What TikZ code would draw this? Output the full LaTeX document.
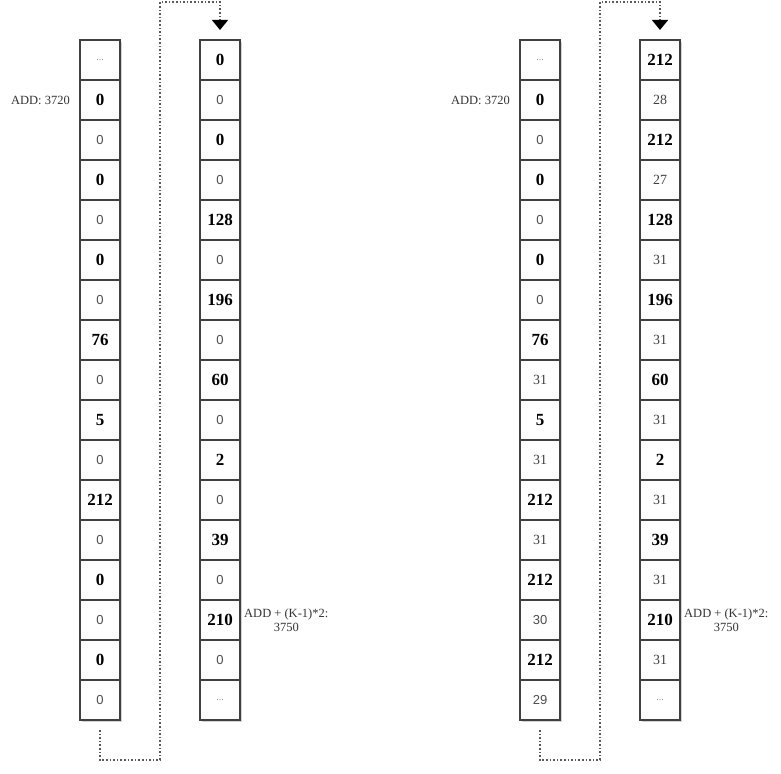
\documentclass[tikz,border=0pt]{standalone}
\usepackage{fontspec}
\setmainfont{Liberation Serif}
\setsansfont{Liberation Sans}
\usetikzlibrary{arrows.meta,calc}
\newcommand\celldots{...}
\tikzset{
 cell/.style={draw=black!75, line width=1.2pt, fill=white, minimum width=40pt, minimum height=40pt, inner sep=0pt, outer sep=0pt},
 cb/.style={cell, font=\fontsize{17}{18}\selectfont\bfseries, text=black},
 cn/.style={cell, font=\fontsize{14}{15}\selectfont, text=black!75},
 cs/.style={cell, font=\sffamily\fontsize{13}{14}\selectfont, text=black!70},
 cd/.style={cell, font=\fontsize{10}{10}\selectfont, text=black!45},
 shadowbox/.style={fill=blue!40!black!18, draw=none},
 link/.style={draw=black!65, line width=1.3pt, dash pattern=on 1.6pt off 2pt},
 lbl/.style={font=\fontsize{12.5}{14}\selectfont, text=black!80, inner sep=0pt, align=center},
 tip/.style={-{Triangle[width=16pt,length=10pt,black]}},
}
\begin{document}
\begin{tikzpicture}[x=1pt,y=-1pt]
\useasboundingbox (0,0) rectangle (781,773);
% shadows
\foreach \cx in {80,200,520,640}
  \fill[shadowbox] (\cx+2,42) rectangle (\cx+42,722);
% left diagram, first column
\foreach [count=\i] \s/\t in {d/\celldots, b/0, s/0, b/0, s/0, b/0, s/0, b/76, s/0, b/5, s/0, b/212, s/0, b/0, s/0, b/0, s/0}
  \node[c\s] (la\i) at (100,{20+40*\i}) {\t};
% left diagram, second column
\foreach [count=\i] \s/\t in {b/0, s/0, b/0, s/0, b/128, s/0, b/196, s/0, b/60, s/0, b/2, s/0, b/39, s/0, b/210, s/0, d/\celldots}
  \node[c\s] (lb\i) at (220,{20+40*\i}) {\t};
% right diagram, first column
\foreach [count=\i] \s/\t in {d/\celldots, b/0, s/0, b/0, s/0, b/0, s/0, b/76, n/31, b/5, n/31, b/212, n/31, b/212, s/30, b/212, s/29}
  \node[c\s] (ra\i) at (540,{20+40*\i}) {\t};
% right diagram, second column
\foreach [count=\i] \s/\t in {b/212, n/28, b/212, n/27, b/128, n/31, b/196, n/31, b/60, n/31, b/2, n/31, b/39, n/31, b/210, n/31, d/\celldots}
  \node[c\s] (rb\i) at (660,{20+40*\i}) {\t};
% labels
\node[lbl, anchor=east] (ladd) at ($(la2.west)+(-10,0)$) {ADD: 3720};
\node[lbl, anchor=west] (lend) at ($(lb15.east)+(4,0)$) {ADD + (K-1)*2:\\3750};
\node[lbl, anchor=east] (radd) at ($(ra2.west)+(-10,0)$) {ADD: 3720};
\node[lbl, anchor=west] (rend) at ($(rb15.east)+(4,0)$) {ADD + (K-1)*2:\\3750};
% connectors
\coordinate (ls) at ($(la17.south)+(0,10)$);
\coordinate (lt) at ($(lb1.north)+(0,-10)$);
\coordinate (lbot) at (160,760);
\coordinate (ltop) at (160,2);
\draw[link, tip] (ls) |- (lbot) -- (ltop) -| (lt);
\coordinate (rs) at ($(ra17.south)+(0,10)$);
\coordinate (rt) at ($(rb1.north)+(0,-10)$);
\coordinate (rbot) at (600,760);
\coordinate (rtop) at (600,2);
\draw[link, tip] (rs) |- (rbot) -- (rtop) -| (rt);
\end{tikzpicture}
\end{document}
